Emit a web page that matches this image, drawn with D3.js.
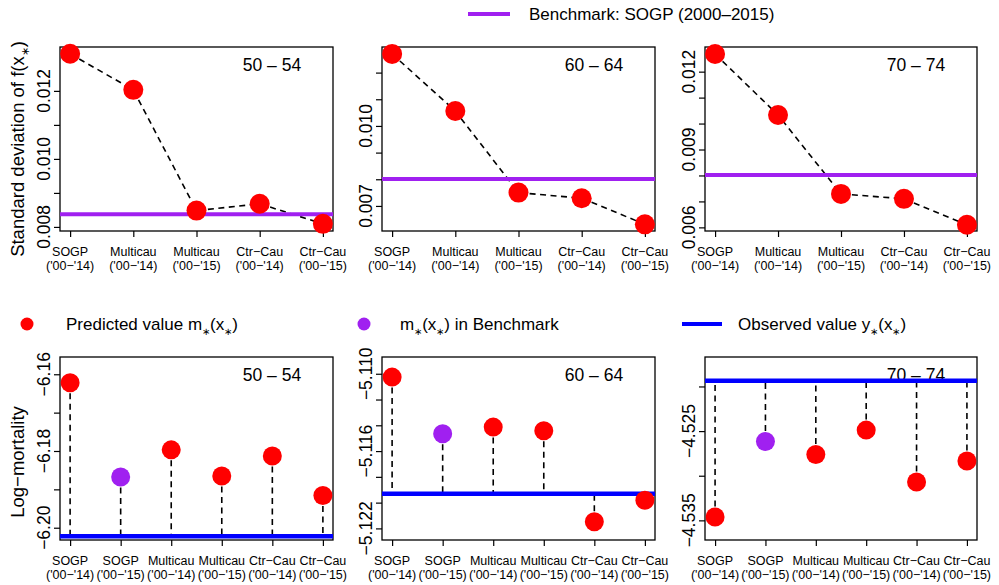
<!DOCTYPE html>
<html>
<head>
<meta charset="utf-8">
<script src="https://cdn.jsdelivr.net/npm/d3@7"></script>
<style>
  body { margin: 0; background: #fff; }
  svg text { font-family: "Liberation Sans", Arial, Helvetica, sans-serif; fill: #000; }
</style>
</head>
<body>
<svg id="chart" width="999" height="585"></svg>
<script>
// categories
var topCategories = [
    ["SOGP", "('00\u2212'14)"],
    ["Multicau", "('00\u2212'14)"],
    ["Multicau", "('00\u2212'15)"],
    ["Ctr\u2212Cau", "('00\u2212'14)"],
    ["Ctr\u2212Cau", "('00\u2212'15)"]
];
var bottomCategories = [
    ["SOGP", "('00\u2212'14)"],
    ["SOGP", "('00\u2212'15)"],
    ["Multicau", "('00\u2212'14)"],
    ["Multicau", "('00\u2212'15)"],
    ["Ctr\u2212Cau", "('00\u2212'14)"],
    ["Ctr\u2212Cau", "('00\u2212'15)"]
];
var ageGroups = ["50 \u2013 54", "60 \u2013 64", "70 \u2013 74"];

// standard deviation of f(x*), one array per age group
var sd5054 = [0.01309, 0.01203, 0.00848, 0.00868, 0.00809];
var sd6064 = [0.01270, 0.01056, 0.00750, 0.00729, 0.00631];
var sd7074 = [0.01268, 0.01033, 0.00729, 0.00710, 0.00610];
var sdBenchmark = [0.00837, 0.00801, 0.00802];

// predicted log-mortality m*(x*), index 1 is the benchmark
var pred5054 = [-6.1622, -6.1868, -6.1797, -6.1865, -6.1813, -6.1916];
var pred6064 = [-5.11026, -5.11465, -5.11414, -5.11442, -5.12149, -5.11981];
var pred7074 = [-4.53463, -4.52616, -4.52762, -4.52489, -4.53070, -4.52834];
var observed = [-6.2022, -5.11932, -4.51935];
var benchmarkIndex = 1;

// axis ranges and ticks
var sdDomains = [[0.00788, 0.01329], [0.00606, 0.01296], [0.00586, 0.01295]];
var sdTicks = [
    [0.008, 0.009, 0.010, 0.011, 0.012],
    [0.007, 0.008, 0.009, 0.010, 0.011, 0.012],
    [0.006, 0.007, 0.008, 0.009, 0.010, 0.011, 0.012]
];
var sdTickLabels = [[0.008, 0.010, 0.012], [0.007, 0.010], [0.006, 0.009, 0.012]];

var predDomains = [[-6.2032, -6.1555], [-5.1229, -5.1087], [-4.5372, -4.5167]];
var predTicks = [
    [-6.20, -6.19, -6.18, -6.17, -6.16],
    [-5.122, -5.120, -5.118, -5.116, -5.114, -5.112, -5.110],
    [-4.535, -4.530, -4.525, -4.520]
];
var predTickLabels = [[-6.20, -6.18, -6.16], [-5.122, -5.116, -5.110], [-4.535, -4.525]];
var predFormats = [".2f", ".3f", ".3f"];

var sdSeries = [sd5054, sd6064, sd7074];
var predSeries = [pred5054, pred6064, pred7074];

var RED = "#ff0000", PURPLE = "#a020f0", BLUE = "#0000ff";

var svg = d3.select("#chart");

var boxX = [[60, 333], [382, 655], [705, 977]];
var topY = [47, 231], botY = [357, 540];

// text with subscript asterisks: parts alternate plain, star, plain, star...
function starText(sel, parts) {
    parts.forEach(function (p, i) {
        if (i > 0) {
            sel.append("tspan").attr("font-size", "0.58em").attr("dy", 5).text("\u2217");
            sel.append("tspan").attr("dy", -5).text(p);
        } else {
            sel.append("tspan").text(p);
        }
    });
}

function minusFmt(f) {
    var fmt = d3.format(f);
    return function (v) { return fmt(v).replace("-", "\u2212"); };
}

function drawPanel(g, x0, x1, yr, n, domain, ticks, tickLabels, fmt, cats) {
    var x = d3.scaleLinear()
        .domain([1 - 0.04 * (n - 1), n + 0.04 * (n - 1)])
        .range([x0, x1]);
    var y = d3.scaleLinear().domain(domain).range([yr[1], yr[0]]);

    // y axis
    var ya = g.append("g").attr("transform", "translate(" + x0 + ",0)")
        .call(d3.axisLeft(y).tickValues(ticks).tickSize(6).tickFormat(""));
    ya.select(".domain").remove();
    ya.selectAll("line").attr("stroke", "#000").attr("stroke-width", 1.2);
    tickLabels.forEach(function (v) {
        g.append("text")
            .attr("transform", "translate(" + (x0 - 10) + "," + y(v) + ") rotate(-90)")
            .attr("text-anchor", "middle")
            .attr("font-size", 17.5)
            .text(minusFmt(fmt)(v));
    });

    // x axis
    var idx = d3.range(1, n + 1);
    var xa = g.append("g").attr("transform", "translate(0," + yr[1] + ")")
        .call(d3.axisBottom(x).tickValues(idx).tickSize(6).tickFormat(""));
    xa.select(".domain").remove();
    xa.selectAll("line").attr("stroke", "#000").attr("stroke-width", 1.2);
    cats.forEach(function (c, i) {
        var t = g.append("text").attr("text-anchor", "middle").attr("font-size", 12.5);
        t.append("tspan").attr("x", x(i + 1)).attr("y", yr[1] + 25).text(c[0]);
        t.append("tspan").attr("x", x(i + 1)).attr("y", yr[1] + 39).text(c[1]);
    });

    // box
    g.append("rect").attr("x", x0).attr("y", yr[0])
        .attr("width", x1 - x0).attr("height", yr[1] - yr[0])
        .attr("fill", "none").attr("stroke", "#000").attr("stroke-width", 1.3);

    return { x: x, y: y };
}

// top row
sdSeries.forEach(function (vals, p) {
    var g = svg.append("g");
    var s = drawPanel(g, boxX[p][0], boxX[p][1], topY, vals.length, sdDomains[p],
        sdTicks[p], sdTickLabels[p], ".3f", topCategories);
    g.append("text").attr("x", boxX[p][1] - 61).attr("y", topY[0] + 24)
        .attr("text-anchor", "middle").attr("font-size", 17.5).text(ageGroups[p]);

    var line = d3.line()
        .x(function (d, i) { return s.x(i + 1); })
        .y(function (d) { return s.y(d); });
    g.append("path").datum(vals).attr("d", line)
        .attr("fill", "none").attr("stroke", "#000")
        .attr("stroke-width", 1.6).attr("stroke-dasharray", "6,4.5");
    g.append("line")
        .attr("x1", boxX[p][0]).attr("x2", boxX[p][1])
        .attr("y1", s.y(sdBenchmark[p])).attr("y2", s.y(sdBenchmark[p]))
        .attr("stroke", PURPLE).attr("stroke-width", 4);
    g.selectAll("circle.pt").data(vals).enter().append("circle")
        .attr("cx", function (d, i) { return s.x(i + 1); })
        .attr("cy", function (d) { return s.y(d); })
        .attr("r", 10).attr("fill", RED);
});

// bottom row
predSeries.forEach(function (vals, p) {
    var g = svg.append("g");
    var s = drawPanel(g, boxX[p][0], boxX[p][1], botY, vals.length, predDomains[p],
        predTicks[p], predTickLabels[p], predFormats[p], bottomCategories);
    g.append("text").attr("x", boxX[p][1] - 61).attr("y", botY[0] + 24)
        .attr("text-anchor", "middle").attr("font-size", 17.5).text(ageGroups[p]);

    g.selectAll("line.stem").data(vals).enter().append("line")
        .attr("x1", function (d, i) { return s.x(i + 1); })
        .attr("x2", function (d, i) { return s.x(i + 1); })
        .attr("y1", function (d) { return s.y(d); })
        .attr("y2", s.y(observed[p]))
        .attr("stroke", "#000").attr("stroke-width", 1.6)
        .attr("stroke-dasharray", "6,4.5");
    g.append("line")
        .attr("x1", boxX[p][0]).attr("x2", boxX[p][1])
        .attr("y1", s.y(observed[p])).attr("y2", s.y(observed[p]))
        .attr("stroke", BLUE).attr("stroke-width", 4.5);
    g.selectAll("circle.pt").data(vals).enter().append("circle")
        .attr("cx", function (d, i) { return s.x(i + 1); })
        .attr("cy", function (d) { return s.y(d); })
        .attr("r", 9.5)
        .attr("fill", function (d, i) { return i === benchmarkIndex ? PURPLE : RED; });
});

// axis titles
var yl1 = svg.append("text")
    .attr("transform", "translate(24,149) rotate(-90)")
    .attr("text-anchor", "middle").attr("font-size", 18.5);
starText(yl1, ["Standard deviation of f(x", ")"]);

svg.append("text")
    .attr("transform", "translate(24,462) rotate(-90)")
    .attr("text-anchor", "middle").attr("font-size", 18.5)
    .text("Log\u2212mortality");

// legends
svg.append("line").attr("x1", 468).attr("x2", 510).attr("y1", 14).attr("y2", 14)
    .attr("stroke", PURPLE).attr("stroke-width", 4);
svg.append("text").attr("x", 529).attr("y", 20).attr("font-size", 17)
    .text("Benchmark: SOGP (2000\u20132015)");

svg.append("circle").attr("cx", 27).attr("cy", 324).attr("r", 6.5).attr("fill", RED);
starText(svg.append("text").attr("x", 66).attr("y", 330).attr("font-size", 17),
    ["Predicted value m", "(x", ")"]);

svg.append("circle").attr("cx", 364).attr("cy", 324).attr("r", 6.5).attr("fill", PURPLE);
starText(svg.append("text").attr("x", 400).attr("y", 330).attr("font-size", 17),
    ["m", "(x", ") in Benchmark"]);

svg.append("line").attr("x1", 682).attr("x2", 722).attr("y1", 324).attr("y2", 324)
    .attr("stroke", BLUE).attr("stroke-width", 4);
starText(svg.append("text").attr("x", 738).attr("y", 330).attr("font-size", 17),
    ["Observed value y", "(x", ")"]);
</script>
</body>
</html>
